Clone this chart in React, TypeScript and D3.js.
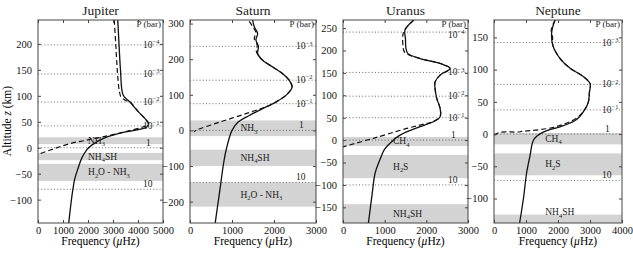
import React, { useEffect, useRef } from "react";
import * as d3 from "d3";

const planets = ["Jupiter", "Saturn", "Uranus", "Neptune"];

// profiles: [frequency (µHz), altitude (km)]
const jupiterSolid = [
  [3190, 246], [3240, 200], [3300, 150], [3410, 101], [3680, 88], [4000, 70],
  [4300, 55], [4420, 46], [4350, 40], [3800, 33], [3280, 28], [2620, 18],
  [2150, 5], [1950, -4], [1750, -20], [1600, -40], [1470, -60], [1380, -85],
  [1280, -123], [1230, -145],
];
const jupiterDashed = [
  [3050, 246], [3110, 200], [3170, 150], [3250, 110], [3320, 98], [3500, 91],
  [3680, 88], [4000, 70], [4300, 55], [4420, 46], [3500, 31], [2600, 21],
  [2000, 15], [1280, 8], [610, -2.5], [0, -13],
];

const saturnSolid = [
  [1490, 310], [1530, 291], [1610, 272], [1570, 254], [1630, 235], [1610, 216],
  [1730, 197], [1970, 178], [2200, 160], [2360, 141], [2430, 122], [2290, 99],
  [2050, 80], [1730, 61], [1410, 42], [1140, 23], [1000, 0], [860, -55],
  [790, -100], [720, -160], [660, -210], [600, -260],
];
const saturnDashed = [
  [1410, 306], [1500, 290], [1570, 275], [1530, 258], [1600, 240], [1580, 222],
  [1720, 198], [1970, 178], [2200, 160], [2360, 141], [2430, 122], [2290, 99],
  [2100, 84], [1890, 70], [1330, 47], [700, 23], [140, 0], [100, -4],
];

const uranusSolid = [
  [1700, 268], [1490, 246], [1500, 225], [1510, 205], [1560, 193], [1850, 182],
  [2330, 171], [2570, 160], [2330, 145], [2210, 130], [2210, 115], [2250, 93],
  [2330, 71], [2330, 52], [2170, 41], [1850, 30], [1370, 11], [1130, -7],
  [1000, -20], [880, -45], [770, -74], [700, -120], [610, -185],
];
const uranusDashed = [
  [1700, 268], [1480, 246], [1440, 236], [1440, 210], [1480, 196], [1850, 182],
  [2330, 171], [2570, 160], [2330, 145], [2210, 130], [2210, 115], [2250, 93],
  [2330, 71], [2330, 52], [2150, 41], [2000, 37], [1530, 26], [730, 4], [0, -15],
];

const neptuneSolid = [
  [1910, 177], [1805, 159], [1837, 138], [2066, 117], [2380, 102], [2800, 89],
  [3005, 78], [2983, 65], [2950, 50], [2850, 39], [2590, 23], [2170, 13],
  [1540, 3], [1250, -8], [1120, -35], [1020, -60], [920, -100], [800, -138],
];
const neptuneDashed = [
  [1910, 177], [1790, 162], [1830, 150], [1837, 138], [2066, 117], [2380, 102],
  [2800, 89], [3005, 78], [2983, 65], [2950, 50], [2850, 39], [2590, 25],
  [1860, 10.5], [814, 3.6], [0, -2.6], [0, -138],
];

// cloud layers: [label, bottom km, top km]
const jupiterBands = [["NH_3", 7, 20], ["NH_4SH", -24, -10], ["H_2O - NH_3", -64, -31]];
const saturnBands = [["NH_3", -16, 28], ["NH_4SH", -100, -54], ["H_2O - NH_3", -214, -146]];
const uranusBands = [["CH_4", -13, 7], ["H_2S", -85, -33], ["NH_4SH", -185, -143]];
const neptuneBands = [["CH_4", -16, 1.5], ["H_2S", -64, -30], ["NH_4SH", -138, -125]];

// pressure levels: [label, altitude km]
const jupiterPressure = [["10^−4", 198], ["10^−3", 142], ["10^−2", 88], ["10^−1", 42], ["1", 0], ["10", -80]];
const saturnPressure = [["10^−3", 236], ["10^−2", 141], ["10^−1", 75], ["1", 0], ["10", -146]];
const uranusPressure = [["10^−4", 241], ["10^−3", 151], ["10^−2", 98], ["10^−1", 50], ["1", 0], ["10", -100]];
const neptunePressure = [["10^−3", 142], ["10^−2", 77], ["10^−1", 37.5], ["1", 0], ["10", -72]];

const altitudeRange = [[-145, 246], [-260, 310], [-185, 268], [-138, 177]];
const frequencyMax = [5000, 3000, 3000, 4000];
const altitudeTicks = [
  [-100, -50, 0, 50, 100, 150, 200],
  [-200, -100, 0, 100, 200, 300],
  [-150, -100, -50, 0, 50, 100, 150, 200, 250],
  [-100, -50, 0, 50, 100, 150],
];
const bandLabelFreq = [2000, 1200, 1200, 1600];
const bandLabelAlt = [[null, null, null], [null, null, null], [null, null, null], [null, null, -121]];

const solids = [jupiterSolid, saturnSolid, uranusSolid, neptuneSolid];
const dasheds = [jupiterDashed, saturnDashed, uranusDashed, neptuneDashed];
const bands = [jupiterBands, saturnBands, uranusBands, neptuneBands];
const pressures = [jupiterPressure, saturnPressure, uranusPressure, neptunePressure];

const frames = [[38, 163], [190, 316], [343, 468], [494, 622]];
const top = 20;
const bottom = 223;
const font = "Liberation Serif, Times New Roman, serif";

// writes "NH_4SH" / "10^−3" with sub- and superscripts
const richText = (text, str, size) => {
  const parts = str.split(/(_\d|\^[−-]?\d+)/);
  let shift = 0;
  parts.forEach((p) => {
    if (!p) return;
    let target = 0;
    let txt = p;
    let fs = size;
    if (p[0] === "_") {
      target = size * 0.28;
      txt = p.slice(1);
      fs = size * 0.68;
    } else if (p[0] === "^") {
      target = -size * 0.4;
      txt = p.slice(1);
      fs = size * 0.68;
    }
    text.append("tspan").attr("dy", target - shift).attr("font-size", fs).text(txt);
    shift = target;
  });
};

const App = () => {
  const ref = useRef(null);

  useEffect(() => {
    const svg = d3.select(ref.current);
    svg.selectAll("*").remove();

    svg
      .append("text")
      .attr("transform", `translate(11,121) rotate(-90)`)
      .attr("text-anchor", "middle")
      .attr("font-size", 11.5)
      .call((t) => {
        t.append("tspan").text("Altitude ");
        t.append("tspan").attr("font-style", "italic").text("z");
        t.append("tspan").text(" (km)");
      });

    planets.forEach((name, i) => {
      const [x0, x1] = frames[i];
      const x = d3.scaleLinear().domain([0, frequencyMax[i]]).range([x0, x1]);
      const y = d3.scaleLinear().domain(altitudeRange[i]).range([bottom, top]);
      const g = svg.append("g");

      const clipId = `clip-${name}`;
      g.append("clipPath")
        .attr("id", clipId)
        .append("rect")
        .attr("x", x0)
        .attr("y", top)
        .attr("width", x1 - x0)
        .attr("height", bottom - top);

      const inner = g.append("g").attr("clip-path", `url(#${clipId})`);

      // cloud layers
      inner
        .selectAll("rect.band")
        .data(bands[i])
        .join("rect")
        .attr("x", x0)
        .attr("width", x1 - x0)
        .attr("y", (d) => y(d[2]))
        .attr("height", (d) => y(d[1]) - y(d[2]))
        .attr("fill", "#d3d3d3");

      // pressure levels
      inner
        .selectAll("line.p")
        .data(pressures[i])
        .join("line")
        .attr("x1", x0)
        .attr("x2", x1)
        .attr("y1", (d) => y(d[1]))
        .attr("y2", (d) => y(d[1]))
        .attr("stroke", "#444")
        .attr("stroke-width", 0.8)
        .attr("stroke-dasharray", "1,2.2");

      pressures[i].forEach((d) => {
        const t = g
          .append("text")
          .attr("x", x1 - (d[0] === "1" ? 17 : 20))
          .attr("y", Math.max(y(d[1]) + (d[0].length > 2 ? 3 : -2), top + 18))
          .attr("font-size", 9.5)
          .attr("fill", "#222");
        richText(t, d[0], 9.5);
      });

      g.append("text")
        .attr("x", x1 - 2)
        .attr("y", top + 6.5)
        .attr("text-anchor", "end")
        .attr("font-size", 9)
        .attr("fill", "#222")
        .text("P (bar)");

      bands[i].forEach((d, k) => {
        const alt = bandLabelAlt[i][k] ?? (d[1] + d[2]) / 2;
        const t = g
          .append("text")
          .attr("x", x(bandLabelFreq[i]))
          .attr("y", y(alt) + 3)
          .attr("font-size", 9.5)
          .attr("fill", "#222");
        richText(t, d[0], 9.5);
      });

      const line = d3
        .line()
        .x((d) => x(d[0]))
        .y((d) => y(d[1]))
        .curve(d3.curveCatmullRom.alpha(0.5));

      inner
        .append("path")
        .datum(dasheds[i])
        .attr("fill", "none")
        .attr("stroke", "#111")
        .attr("stroke-width", 1.2)
        .attr("stroke-dasharray", "5,3")
        .attr("d", line);

      inner
        .append("path")
        .datum(solids[i])
        .attr("fill", "none")
        .attr("stroke", "#111")
        .attr("stroke-width", 1.3)
        .attr("d", line);

      // axes: inward ticks on all four sides
      g.append("g")
        .attr("transform", `translate(${x0},0)`)
        .call(d3.axisLeft(y).tickValues(altitudeTicks[i]).tickSize(-3).tickPadding(6))
        .call((a) => a.select(".domain").remove());
      g.append("g")
        .attr("transform", `translate(${x1},0)`)
        .call(d3.axisRight(y).tickValues(altitudeTicks[i]).tickSize(-3).tickFormat(() => ""))
        .call((a) => a.select(".domain").remove());
      g.append("g")
        .attr("transform", `translate(0,${bottom})`)
        .call(
          d3
            .axisBottom(x)
            .ticks(frequencyMax[i] / 1000)
            .tickFormat(d3.format("d"))
            .tickSize(-3)
            .tickPadding(4)
        )
        .call((a) => a.select(".domain").remove());
      g.append("g")
        .attr("transform", `translate(0,${top})`)
        .call(d3.axisTop(x).ticks(frequencyMax[i] / 1000).tickSize(-3).tickFormat(() => ""))
        .call((a) => a.select(".domain").remove());

      g.selectAll(".tick text").attr("font-size", 10.5).attr("fill", "#111");
      g.selectAll(".tick line").attr("stroke", "#444");

      g.append("rect")
        .attr("x", x0)
        .attr("y", top)
        .attr("width", x1 - x0)
        .attr("height", bottom - top)
        .attr("fill", "none")
        .attr("stroke", "#444")
        .attr("stroke-width", 1);

      g.append("text")
        .attr("x", (x0 + x1) / 2)
        .attr("y", 15)
        .attr("text-anchor", "middle")
        .attr("font-size", 13.5)
        .attr("fill", "#222")
        .text(name);

      g.append("text")
        .attr("x", (x0 + x1) / 2)
        .attr("y", 245)
        .attr("text-anchor", "middle")
        .attr("font-size", 11.5)
        .call((t) => {
          t.append("tspan").text("Frequency (");
          t.append("tspan").attr("font-style", "italic").text("μ");
          t.append("tspan").text("Hz)");
        });
    });

    // every label in the serif face, overriding the axis default
    svg.selectAll("text").attr("font-family", font);
  }, []);

  return (
    <div style={{ position: "absolute", left: 0, top: 0 }}>
      <svg ref={ref} width={633} height={254} style={{ display: "block", background: "#fff" }} />
    </div>
  );
};

export default App;
